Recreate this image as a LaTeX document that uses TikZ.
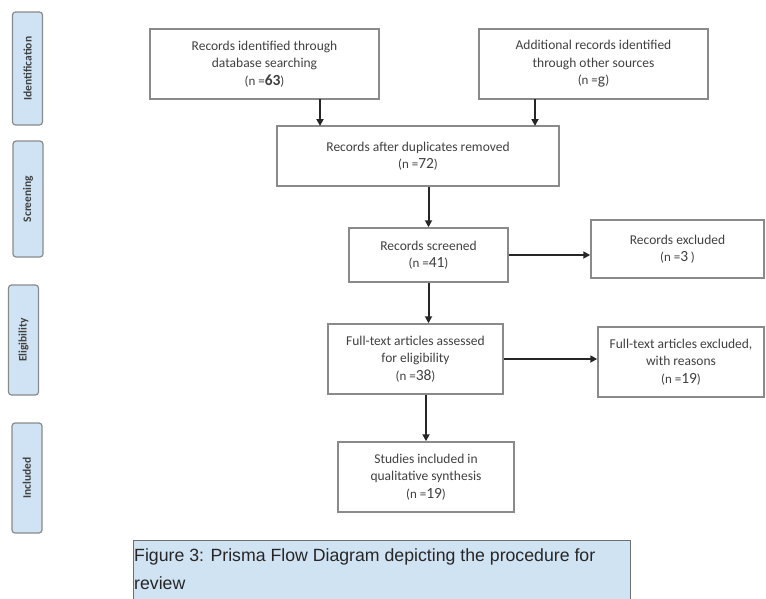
\documentclass[tikz,border=0pt]{standalone}
\usepackage{fontspec}
\setmainfont{Carlito}
\newfontfamily\capfont{Liberation Sans}
\usetikzlibrary{arrows.meta}
\definecolor{tabblue}{HTML}{CFE3F4}
\definecolor{capblue}{HTML}{D0E3F3}
\definecolor{boxgray}{HTML}{8A8A8A}
\definecolor{txtgray}{HTML}{404040}
\newcommand{\nval}[1]{{\fontsize{13}{17}\selectfont(n =}{\fontsize{15.5}{17}\selectfont #1}{\fontsize{13}{17}\selectfont)}}
\tikzset{
  flowbox/.style={draw=boxgray, line width=1.5pt, fill=white, align=center, inner sep=2pt,
    font=\fontsize{13.5}{17.5}\selectfont, text=txtgray},
  tabbox/.style={draw=boxgray, line width=1.2pt, fill=tabblue, rounded corners=3pt,
    minimum width=30pt, text=txtgray},
  tablabel/.style={rotate=90, font=\fontsize{11.5}{12}\bfseries\selectfont, text=txtgray},
  flowarrow/.style={draw=black!85, line width=2pt, -{Triangle[length=7pt,width=7pt]}},
}
\begin{document}
\begin{tikzpicture}[x=1pt,y=-1pt]
\useasboundingbox (0,0) rectangle (766,598);
% phase tabs
\node[tabbox, minimum height=113pt] (tid) at (27.5,68.5) {};
\node[tablabel] (lid) at (tid.center) {Identification};
\node[tabbox, minimum height=116pt] (tsc) at (28,199) {};
\node[tablabel] (lsc) at (tsc.center) {Screening};
\node[tabbox, minimum height=110pt] (tel) at (23.5,340) {};
\node[tablabel] (lel) at (tel.center) {Eligibility};
\node[tabbox, minimum height=110pt] (tin) at (27,478) {};
\node[tablabel] (lin) at (tin.center) {Included};
% flow boxes
\node[flowbox, minimum width=229pt, minimum height=70pt] (b1) at (264.5,64)
  {Records identified through\\database searching\\\nval{\textbf{63}}};
\node[flowbox, minimum width=229pt, minimum height=70pt] (b2) at (593.5,64)
  {Additional records identified\\through other sources\\\nval{g}};
\node[flowbox, minimum width=282pt, minimum height=60pt] (b3) at (418,156)
  {Records after duplicates removed\\\nval{72}};
\node[flowbox, minimum width=159pt, minimum height=54pt] (b4) at (428.5,255)
  {Records screened\\\nval{41}};
\node[flowbox, minimum width=173pt, minimum height=58pt] (b5) at (677.5,249)
  {Records excluded\\\nval{3\,}};
\node[flowbox, minimum width=175pt, minimum height=70pt] (b6) at (415.5,359)
  {Full-text articles assessed\\for eligibility\\\nval{38}};
\node[flowbox, minimum width=166pt, minimum height=70pt] (b7) at (681,362)
  {Full-text articles excluded,\\with reasons\\\nval{19}};
\node[flowbox, minimum width=176pt, minimum height=70pt] (b8) at (426,477)
  {Studies included in\\qualitative synthesis\\\nval{19}};
% caption
\node[draw=boxgray!80!black, line width=1.2pt, fill=capblue, minimum width=497pt, minimum height=70pt,
  anchor=north west, inner sep=0pt] (cap) at (133,540) {};
\node[anchor=north west, align=left, inner sep=0pt, text=black!85,
  font=\capfont\fontsize{17.7}{28}\selectfont] (captxt) at (134,548)
  {Figure 3: Prisma Flow Diagram depicting the procedure for\\review};
% connectors
\coordinate (a1) at (320,99);
\coordinate (a1e) at (320,126);
\draw[flowarrow] (a1) -- (a1e);
\coordinate (a2) at (535,99);
\coordinate (a2e) at (535,126);
\draw[flowarrow] (a2) -- (a2e);
\draw[flowarrow] (b3.south -| b4.north) -- (b4.north);
\draw[flowarrow] (b4.east) -- (b5.west |- b4.east);
\draw[flowarrow] (b4.south) -- (b4.south |- b6.north);
\draw[flowarrow] (b6.east) -- (b7.west |- b6.east);
\draw[flowarrow] (b6.south -| b8.north) -- (b8.north);
\end{tikzpicture}
\end{document}
